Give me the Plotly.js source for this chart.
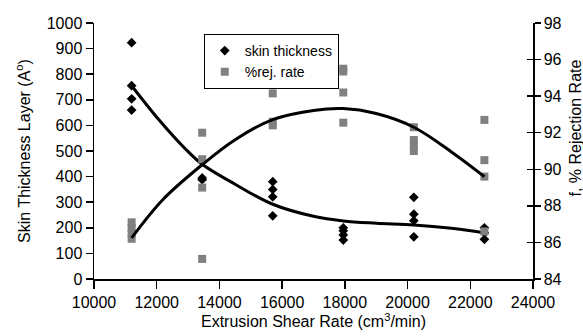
<!DOCTYPE html>
<html>
<head>
<meta charset="utf-8">
<script src="https://cdn.plot.ly/plotly-3.0.1.min.js"></script>
<style>html,body{margin:0;padding:0;background:#fff;}#chart{width:583px;height:336px;}</style>
</head>
<body>
<div id="chart"></div>
<script>
// Shear rates (cm^3/min)
const shearRates = [11200, 13450, 15700, 17950, 20200, 22450];
// Skin thickness replicates per shear rate (Angstrom)
const skinThickness = [
  [923, 755, 704, 660],
  [395, 388],
  [380, 350, 321, 247],
  [200, 188, 172, 152],
  [319, 253, 228, 165],
  [200, 180, 155]
];
// % rejection rate replicates per shear rate
const rejRate = [
  [87.1, 86.8, 86.5, 86.2],
  [92.0, 90.55, 89.0, 85.1],
  [94.15, 92.6, 92.4],
  [95.5, 95.35, 94.2, 92.55],
  [92.3, 91.6, 91.3, 91.0],
  [92.7, 90.5, 89.6, 86.6]
];
// Trend lines
const skinTrendX = [11200, 12050, 12900, 13450, 14500, 15700, 17000, 17950, 19000, 20200, 21400, 22450];
const skinTrendY = [755, 625, 510, 448, 370, 292, 245, 227, 218, 211, 198, 181];
const rejTrendX = [11200, 12200, 13450, 14500, 15700, 17000, 17950, 19000, 20200, 21400, 22450];
const rejTrendY = [86.25, 88.35, 90.25, 91.62, 92.72, 93.22, 93.32, 93.05, 92.3, 90.95, 89.6];

function flatten(groups) {
  const xs = [], ys = [];
  groups.forEach((g, i) => g.forEach(v => { xs.push(shearRates[i]); ys.push(v); }));
  return {xs, ys};
}
const sk = flatten(skinThickness);
const rj = flatten(rejRate);

const FONT = '"Liberation Sans", Arial, sans-serif';

const traces = [
  {x: sk.xs, y: sk.ys, type: 'scatter', mode: 'markers', name: 'skin thickness',
   marker: {symbol: 'diamond', size: 7.5, color: '#000000'}, yaxis: 'y'},
  {x: skinTrendX, y: skinTrendY, type: 'scatter', mode: 'lines', showlegend: false,
   line: {color: '#000000', width: 3, shape: 'spline', smoothing: 1}, yaxis: 'y', hoverinfo: 'skip'},
  {x: rj.xs, y: rj.ys, type: 'scatter', mode: 'markers', name: '%rej. rate',
   marker: {symbol: 'square', size: 8, color: '#808080'}, yaxis: 'y2'},
  {x: rejTrendX, y: rejTrendY, type: 'scatter', mode: 'lines', showlegend: false,
   line: {color: '#000000', width: 3, shape: 'spline', smoothing: 1}, yaxis: 'y2', hoverinfo: 'skip'}
];

const layout = {
  width: 583, height: 336,
  margin: {l: 94, r: 50, t: 23, b: 57, pad: 0},
  paper_bgcolor: '#ffffff', plot_bgcolor: '#ffffff',
  font: {family: FONT, size: 16, color: '#000000'},
  showlegend: true,
  legend: {x: 0.25, y: 0.957, xanchor: 'left', yanchor: 'top',
           bordercolor: '#000000', borderwidth: 1, bgcolor: '#ffffff',
           font: {family: FONT, size: 14, color: '#000000'}, itemwidth: 30, tracegroupgap: 0},
  xaxis: {range: [10000, 24000], dtick: 2000, tick0: 10000, tickformat: 'd',
          ticks: 'outside', ticklen: 8, tickwidth: 1.5, tickcolor: '#000',
          showline: true, linewidth: 1.5, linecolor: '#000', showgrid: false, zeroline: false,
          tickfont: {family: FONT, size: 16},
          title: {text: 'Extrusion Shear Rate (cm<sup>3</sup>/min)', font: {family: FONT, size: 16}, standoff: 4}},
  yaxis: {range: [0, 1000], dtick: 100, tick0: 0,
          ticks: 'outside', ticklen: 7, tickwidth: 1.5, tickcolor: '#000',
          showline: true, linewidth: 1.5, linecolor: '#000', showgrid: false, zeroline: false,
          tickfont: {family: FONT, size: 16},
          title: {text: 'Skin Thickness Layer (A<sup>o</sup>)', font: {family: FONT, size: 16}, standoff: 12}},
  yaxis2: {overlaying: 'y', side: 'right', range: [84, 98], dtick: 2, tick0: 84,
           ticks: 'outside', ticklen: 6, tickwidth: 1.5, tickcolor: '#000',
           showline: true, linewidth: 1.5, linecolor: '#000', showgrid: false, zeroline: false,
           tickfont: {family: FONT, size: 16}},
  yaxis3: {overlaying: 'y', side: 'right', range: [84, 98], dtick: 2, tick0: 84,
           ticks: 'inside', ticklen: 6, tickwidth: 1.5, tickcolor: '#000',
           showticklabels: false, showline: false, showgrid: false, zeroline: false},
  annotations: [
    {text: 'f, % Rejection Rate', xref: 'paper', yref: 'paper', x: 1.097, y: 0.59,
     xanchor: 'center', yanchor: 'middle', textangle: -90, showarrow: false,
     font: {family: FONT, size: 16, color: '#000'}}
  ]
};

// dummy trace to activate yaxis3 (inside ticks on right axis)
traces.push({x: [null], y: [null], yaxis: 'y3', type: 'scatter', mode: 'markers', showlegend: false, hoverinfo: 'skip'});

Plotly.newPlot('chart', traces, layout, {staticPlot: true, displayModeBar: false});
</script>
</body>
</html>
